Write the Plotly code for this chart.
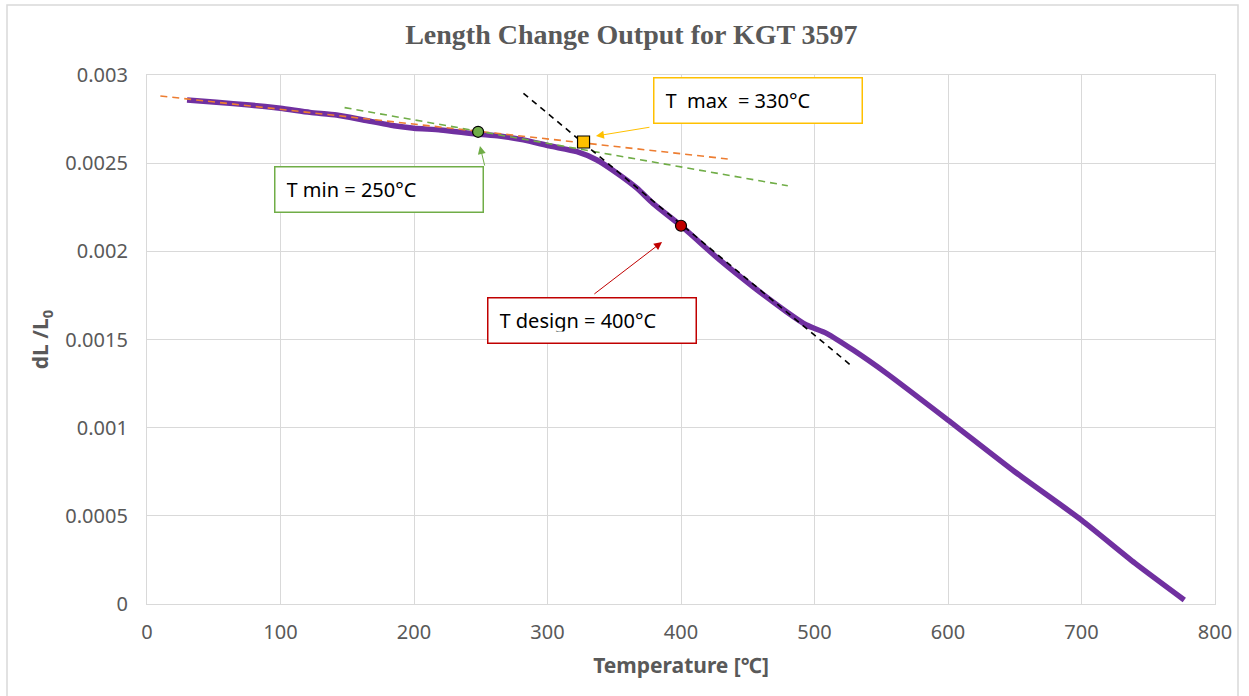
import plotly.graph_objects as go

# ---- data ----
temp = [30, 52, 77, 100, 122, 142, 162, 185, 200, 220, 247, 264, 282, 302, 322, 337, 354,
        367, 379, 400, 429, 454, 479, 494, 509, 529, 554, 600, 650, 700, 740, 777]
dl = [0.002858, 0.002845, 0.002830, 0.002811, 0.002788, 0.002773, 0.002745, 0.002712,
      0.002698, 0.002688, 0.002665, 0.002654, 0.002632, 0.002597, 0.002565, 0.002518,
      0.002433, 0.002358, 0.002272, 0.002145, 0.001951, 0.001799, 0.001658, 0.001582,
      0.001535, 0.001440, 0.001308, 0.001043, 0.000750, 0.000476, 0.000232, 0.000023]

orange_x = [10, 435]
orange_y = [0.002881, 0.002524]
green_x = [148, 480]
green_y = [0.002815, 0.002372]
black_x = [282, 527]
black_y = [0.002896, 0.001355]

tmin_pt = (248, 0.002678)
tmax_pt = (327, 0.00262)
tdes_pt = (400, 0.002145)

labels = ["T min = 250°C", "T  max  = 330°C", "T design = 400°C"]
label_x = [174, 458, 333]
label_y = [0.002348, 0.002853, 0.00161]
arrow_tail_x = [253.2, 377.5, 334.0]
arrow_tail_y = [0.002478, 0.002705, 0.001752]
arrow_head_x = [249.4, 336.3, 385.8]
arrow_head_y = [0.002597, 0.002654, 0.002053]
label_colors = ["#70AD47", "#FFC000", "#C00000"]

xticks = [0, 100, 200, 300, 400, 500, 600, 700, 800]
yticks = [0, 0.0005, 0.001, 0.0015, 0.002, 0.0025, 0.003]
yticktext = ["0", "0.0005", "0.001", "0.0015", "0.002", "0.0025", "0.003"]

fig = go.Figure()
fig.add_trace(go.Scatter(x=temp, y=dl, mode="lines",
                         line=dict(color="#7030A0", width=5.5, shape="spline", smoothing=0.6),
                         showlegend=False))
fig.add_trace(go.Scatter(x=orange_x, y=orange_y, mode="lines",
                         line=dict(color="#ED7D31", width=1.6, dash="7px,5px"), showlegend=False))
fig.add_trace(go.Scatter(x=green_x, y=green_y, mode="lines",
                         line=dict(color="#70AD47", width=1.6, dash="7px,5px"), showlegend=False))
fig.add_trace(go.Scatter(x=black_x, y=black_y, mode="lines",
                         line=dict(color="#000000", width=1.6, dash="6px,5px"), showlegend=False))
fig.add_trace(go.Scatter(x=[tmin_pt[0]], y=[tmin_pt[1]], mode="markers",
                         marker=dict(symbol="circle", size=11, color="#70AD47",
                                     line=dict(color="#000", width=1.2)), showlegend=False))
fig.add_trace(go.Scatter(x=[tmax_pt[0]], y=[tmax_pt[1]], mode="markers",
                         marker=dict(symbol="square", size=12, color="#FFC000",
                                     line=dict(color="#000", width=1.2)), showlegend=False))
fig.add_trace(go.Scatter(x=[tdes_pt[0]], y=[tdes_pt[1]], mode="markers",
                         marker=dict(symbol="circle", size=11, color="#C00000",
                                     line=dict(color="#000", width=1.2)), showlegend=False))

annotations = []
for i in range(3):
    annotations.append(dict(
        x=label_x[i], y=label_y[i], xref="x", yref="y", text=labels[i], showarrow=False,
        width=185, height=22, align="left", borderpad=11, bordercolor=label_colors[i],
        borderwidth=1.5, bgcolor="white",
        font=dict(family="Noto Sans", size=20, color="#000000")))
    annotations.append(dict(
        x=arrow_head_x[i], y=arrow_head_y[i], ax=arrow_tail_x[i], ay=arrow_tail_y[i],
        xref="x", yref="y", axref="x", ayref="y", text="", showarrow=True,
        arrowhead=2, arrowsize=1.6, arrowwidth=1, arrowcolor=label_colors[i]))

fig.update_layout(
    width=1249, height=696,
    margin=dict(l=147, r=34, t=75, b=92),
    paper_bgcolor="white", plot_bgcolor="white",
    title=dict(text="<b>Length Change Output for KGT 3597</b>", x=0.5055, xanchor="center",
               y=0.951, yanchor="middle",
               font=dict(family="Liberation Serif", size=28, color="#595959")),
    annotations=annotations,
    shapes=[dict(type="rect", xref="paper", yref="paper",
                 x0=(7 - 147) / 1068, x1=(1238 - 147) / 1068,
                 y0=-0.2, y1=(604 - 5) / 529,
                 line=dict(color="#D9D9D9", width=1.5), fillcolor="rgba(0,0,0,0)", layer="below")],
)
fig.update_xaxes(range=[0, 800], tickvals=xticks, showgrid=True, gridcolor="#D9D9D9", gridwidth=1.3,
                 zeroline=False, showline=True, linecolor="#D9D9D9", linewidth=1.3, mirror=True,
                 ticks="", ticklabelstandoff=10,
                 tickfont=dict(family="Noto Sans", size=20, color="#595959"),
                 title=dict(text="<b>Temperature [℃]</b>", standoff=14,
                            font=dict(family="Noto Sans", size=21, color="#595959")))
fig.update_yaxes(range=[0, 0.003], tickvals=yticks, ticktext=yticktext, showgrid=True,
                 gridcolor="#D9D9D9", gridwidth=1.3, zeroline=False, showline=True,
                 linecolor="#D9D9D9", linewidth=1.3, mirror=True, ticks="", ticklabelstandoff=14,
                 tickfont=dict(family="Noto Sans", size=20, color="#595959"),
                 title=dict(text="<b>dL /L<sub>0</sub></b>", standoff=10,
                            font=dict(family="Noto Sans", size=21, color="#595959")))

fig.write_html("out.html")
